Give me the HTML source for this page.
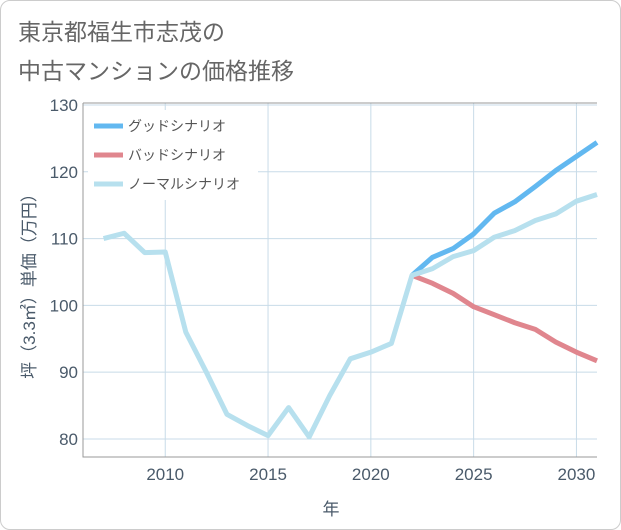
<!DOCTYPE html>
<html><head><meta charset="utf-8"><style>
body{margin:0;background:#fff;font-family:"Liberation Sans","Noto Sans CJK JP",sans-serif;}
#card{position:absolute;left:0;top:0;width:619px;height:528px;border:1px solid #ccc;border-radius:10px;background:#fff;}
</style></head><body>
<div id="card">
<svg id="s" width="621" height="530" style="position:absolute;left:-1px;top:-1px">
<text x="18" y="40" font-size="23" fill="#666">東京都福生市志茂の</text>
<text x="18" y="79" font-size="23" fill="#666">中古マンションの価格推移</text>
<g id="grid"></g>
<g id="marks"></g>
<text x="331" y="515" font-size="17" fill="#4a5a6a" text-anchor="middle">年</text>
<text transform="translate(35,282) rotate(-90)" font-size="17" fill="#4a5a6a" text-anchor="middle">坪（3.3㎡）単価（万円）</text>
</svg></div>
<script>
const years=[2007,2008,2009,2010,2011,2012,2013,2014,2015,2016,2017,2018,2019,2020,2021,2022,2023,2024,2025,2026,2027,2028,2029,2030,2031];
const normal=[110,110.8,107.9,108,96,90,83.7,82,80.5,84.7,80.3,86.5,92,93,94.3,104.5,105.5,107.3,108.2,110.2,111.2,112.7,113.7,115.6,116.6];
const fYears=[2022,2023,2024,2025,2026,2027,2028,2029,2030,2031];
const good=[104.5,107.2,108.5,110.7,113.8,115.5,117.8,120.2,122.3,124.4];
const bad=[104.5,103.3,101.8,99.8,98.6,97.4,96.4,94.5,93,91.7];
const xTicks=[2010,2015,2020,2025,2030];
const yTicks=[80,90,100,110,120,130];
const X0=83,X1=597,Y0=457,Y1=103;
const x=v=>X0+(v-2006)*(X1-X0)/25;
const y=v=>Y0-(v-77.3)*(Y0-Y1)/(130.3-77.3);
const NS='http://www.w3.org/2000/svg';
function mk(t,a,p){const e=document.createElementNS(NS,t);for(const k in a)e.setAttribute(k,a[k]);p.appendChild(e);return e;}
const g=document.getElementById('grid'),m=document.getElementById('marks');
xTicks.forEach(t=>{
const l=mk('line',{x1:x(t),x2:x(t),y1:Y1,y2:Y0,stroke:'#c8dbe8','stroke-width':1},g);


const tx=mk('text',{x:x(t),y:Y0+23,'font-size':17,fill:'#4a5a6a','text-anchor':'middle'},g);tx.textContent=t;


});
yTicks.forEach(t=>{
const l=mk('line',{x1:X0,x2:X1,y1:y(t),y2:y(t),stroke:'#c8dbe8','stroke-width':1},g);


const tx=mk('text',{x:X0-5,y:y(t)+6,'font-size':17,fill:'#4a5a6a','text-anchor':'end'},g);tx.textContent=t;


});
const ax=mk('path',{d:`M${X0},${Y1}V${Y0}H${X1}M${X0},${Y1}H${X1}`,stroke:'#999',fill:'none','stroke-width':1},g);


function line(xs,vs,c,n){const p=mk('polyline',{points:xs.map((t,i)=>x(t)+','+y(vs[i])).join(' '),fill:'none',stroke:c,'stroke-width':5,'stroke-linejoin':'round'},m);

}
line(fYears,bad,'#e0868e','bad-scenario-line');
line(fYears,good,'#62b8f0','good-scenario-line');
line(years,normal,'#b7e0ee','normal-scenario-line');
const leg=[['グッドシナリオ','#62b8f0'],['バッドシナリオ','#e0868e'],['ノーマルシナリオ','#b7e0ee']];
const lb=mk('rect',{x:88,y:110,width:170,height:90,fill:'#fff'},m);


leg.forEach((d,i)=>{const yy=126+i*29;
const r=mk('line',{x1:94,x2:123,y1:yy,y2:yy,stroke:d[1],'stroke-width':5},m);


const t=mk('text',{x:128,y:yy+5,'font-size':14,fill:'#555'},m);t.textContent=d[0];

});
</script></body></html>
